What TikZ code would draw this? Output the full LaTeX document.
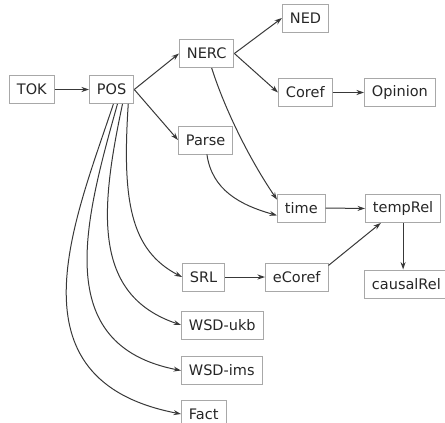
\documentclass[tikz,border=0pt]{standalone}
\usepackage{fontspec}
\setmainfont{DejaVu Sans}
\usetikzlibrary{arrows.meta}

\definecolor{boxgray}{HTML}{A8A8A8}
\definecolor{edgegray}{HTML}{383838}

\begin{document}
\begin{tikzpicture}[x=1pt, y=-1pt,
	box/.style={draw=boxgray, line width=0.9pt, anchor=west, minimum height=28pt,
		inner xsep=7.5pt, text=black!85, font=\fontsize{14.5}{17}\selectfont},
	edge/.style={draw=edgegray, line width=1pt,
		-{Stealth[length=7.5pt, width=5pt, inset=2.5pt]}}
	]
	\useasboundingbox (0,0) rectangle (445,423);

	\node[box] at (9, 89.5) (tok) {TOK};
	\node[box] at (89, 89.5) (pos) {POS};
	\node[box] at (179, 53.5) (nerc) {NERC};
	\node[box] at (178, 140) (parse) {Parse};
	\node[box] at (282, 18) (ned) {NED};
	\node[box] at (278, 92.5) (coref) {Coref};
	\node[box] at (364, 92.5) (opinion) {Opinion};
	\node[box] at (277, 208) (time) {time};
	\node[box] at (365, 208.5) (temprel) {tempRel};
	\node[box] at (364, 284) (causalrel) {causalRel};
	\node[box] at (182, 277) (srl) {SRL};
	\node[box] at (265, 277) (ecoref) {eCoref};
	\node[box] at (181, 325) (wsdukb) {WSD-ukb};
	\node[box] at (181, 370.5) (wsdims) {WSD-ims};
	\node[box] at (181, 414) (fact) {Fact};

	\draw[edge] (tok) -- (pos);
	\draw[edge] (pos.east) -- (nerc.west);
	\draw[edge] (pos.east) -- (parse.west);
	\draw[edge] (nerc.east) -- (ned.west);
	\draw[edge] (nerc.east) -- (coref.west);
	\draw[edge] (coref) -- (opinion);
	\draw[edge] (nerc.-71) .. controls (225,110) and (250,160) .. (time.161);
	\draw[edge] (parse.-85) .. controls (212,190) and (240,205) .. (time.197);
	\draw[edge] (time.east) -- (temprel.west);
	\draw[edge] (srl.east) -- (ecoref.west);
	\draw[edge] (ecoref.20) -- (temprel.-147);
	\draw[edge] (temprel.south) -- (temprel.south |- causalrel.north);

	\draw[edge] (pos.-83) .. controls (75,220) and (5,380) .. (fact.west);
	\draw[edge] (pos.-68) .. controls (85,220) and (50,345) .. (wsdims.west);
	\draw[edge] (pos.-53) .. controls (100,210) and (92,295) .. (wsdukb.west);
	\draw[edge] (pos.-41) .. controls (122,200) and (130,250) .. (srl.west);
\end{tikzpicture}
\end{document}
